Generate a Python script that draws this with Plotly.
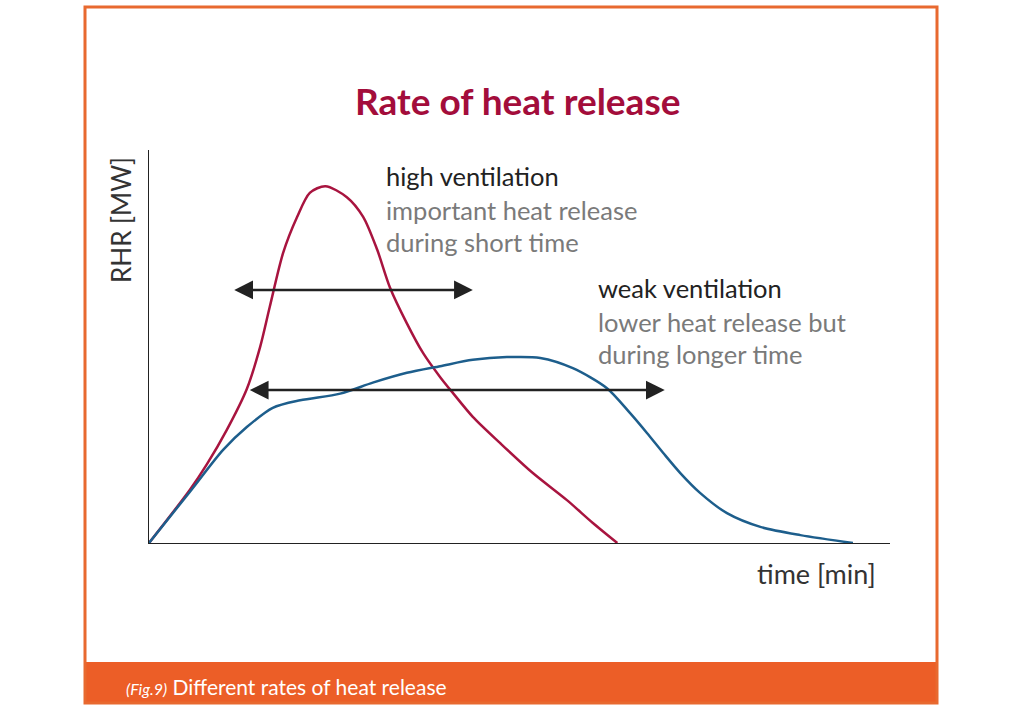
import plotly.graph_objects as go

# high ventilation curve (time, RHR)
t_high = [0, 5.5, 7.8, 10.5, 13.2, 15.0, 16.3, 18.1, 20.0, 21.7, 23.8, 26.7,
          28.9, 30.8, 32.5, 34.8, 37.0, 39.3, 41.0, 43.7, 47.4, 51.8, 56.4, 59.9, 63.2]
q_high = [0, 13.5, 20.0, 28.8, 39.2, 49.9, 60.1, 73.8, 83.0, 89.1, 90.8, 88.0,
          83.0, 74.6, 65.1, 55.9, 48.3, 42.2, 38.2, 32.1, 25.4, 17.8, 10.9, 5.1, 0]

# weak ventilation curve
t_weak = [0, 5.5, 10.0, 13.2, 16.7, 20.4, 25.8, 30.2, 34.8, 39.3, 43.7, 48.3,
          52.8, 57.2, 61.8, 64.9, 67.2, 69.4, 71.7, 74.4, 78.0, 82.5, 87.9, 95.0]
q_weak = [0, 13.0, 23.7, 29.5, 34.4, 36.3, 38.0, 40.8, 43.3, 45.0, 46.6, 47.3,
          47.1, 44.5, 39.4, 33.1, 28.0, 22.9, 17.8, 12.7, 7.6, 4.1, 2.0, 0]

# duration arrows: [start, end] and level
span_high = [11.3, 43.7]
level_high = 64.4
span_weak = [13.4, 69.6]
level_weak = 38.9

RED = "#A8143F"
BLUE = "#1D5E8C"
ORANGE = "#EC5E27"
FONT = "Lato"

# plot area in pixels
L, R, T, B = 149, 890, 150, 543


def px(x):
    return (x - L) / (R - L)


def py(y):
    return (B - y) / (B - T)


fig = go.Figure()
fig.add_trace(go.Scatter(x=t_high, y=q_high, mode="lines",
                         line=dict(color=RED, width=2.5, shape="spline", smoothing=0.8)))
fig.add_trace(go.Scatter(x=t_weak, y=q_weak, mode="lines",
                         line=dict(color=BLUE, width=2.5, shape="spline", smoothing=0.8)))

for span, lvl in [(span_high, level_high), (span_weak, level_weak)]:
    fig.add_annotation(x=span[1], y=lvl, ax=span[0], ay=lvl, xref="x", yref="y",
                       axref="x", ayref="y", text="", showarrow=True,
                       arrowside="end+start", arrowhead=2, arrowsize=1.5,
                       arrowwidth=2.5, arrowcolor="#222222", standoff=0, startstandoff=0)

texts = [
    ("high ventilation", 384, 176, "#222222"),
    ("important heat release", 384, 210, "#7a7a7a"),
    ("during short time", 384, 242, "#7a7a7a"),
    ("weak ventilation", 596, 288, "#222222"),
    ("lower heat release but", 596, 322, "#7a7a7a"),
    ("during longer time", 596, 354, "#7a7a7a"),
]
for txt, x, y, col in texts:
    fig.add_annotation(x=px(x), y=py(y), xref="paper", yref="paper", text=txt,
                       showarrow=False, xanchor="left", yanchor="middle",
                       font=dict(family=FONT, size=25.5, color=col))

fig.add_annotation(x=px(517), y=py(100), xref="paper", yref="paper",
                   text="<b>Rate of heat release</b>", showarrow=False,
                   xanchor="center", yanchor="middle",
                   font=dict(family=FONT, size=37, color="#A30D3B"))
fig.add_annotation(x=px(121), y=py(220), xref="paper", yref="paper",
                   text="RHR [MW]", textangle=-90, showarrow=False,
                   xanchor="center", yanchor="middle",
                   font=dict(family=FONT, size=26, color="#333333"))
fig.add_annotation(x=px(878), y=py(573), xref="paper", yref="paper",
                   text="time [min]", showarrow=False, xanchor="right", yanchor="middle",
                   font=dict(family=FONT, size=27, color="#333333"))
fig.add_annotation(x=px(124), y=py(686), xref="paper", yref="paper",
                   text="<i><span style='font-size:16px'>(Fig.9)</span></i> Different rates of heat release",
                   showarrow=False, xanchor="left", yanchor="middle",
                   font=dict(family=FONT, size=21, color="white"))

# frame and caption bar
fig.add_shape(type="rect", xref="paper", yref="paper",
              x0=px(85), x1=px(937), y0=py(662), y1=py(703),
              fillcolor=ORANGE, line=dict(width=0), layer="below")
fig.add_shape(type="rect", xref="paper", yref="paper",
              x0=px(85), x1=px(937), y0=py(703), y1=py(7),
              line=dict(color="#E8692F", width=3), layer="below")

fig.update_xaxes(range=[0, 100], showline=True, linecolor="#222222", linewidth=1.3,
                 showgrid=False, zeroline=False, showticklabels=False, ticks="")
fig.update_yaxes(range=[0, 100], showline=True, linecolor="#222222", linewidth=1.3,
                 showgrid=False, zeroline=False, showticklabels=False, ticks="")
fig.update_layout(width=1024, height=712, showlegend=False,
                  margin=dict(l=L, r=1024 - R, t=T, b=712 - B),
                  paper_bgcolor="white", plot_bgcolor="white")

fig.write_html("out.html", config={"displayModeBar": False},
               post_script="document.body.style.margin='0px';")
